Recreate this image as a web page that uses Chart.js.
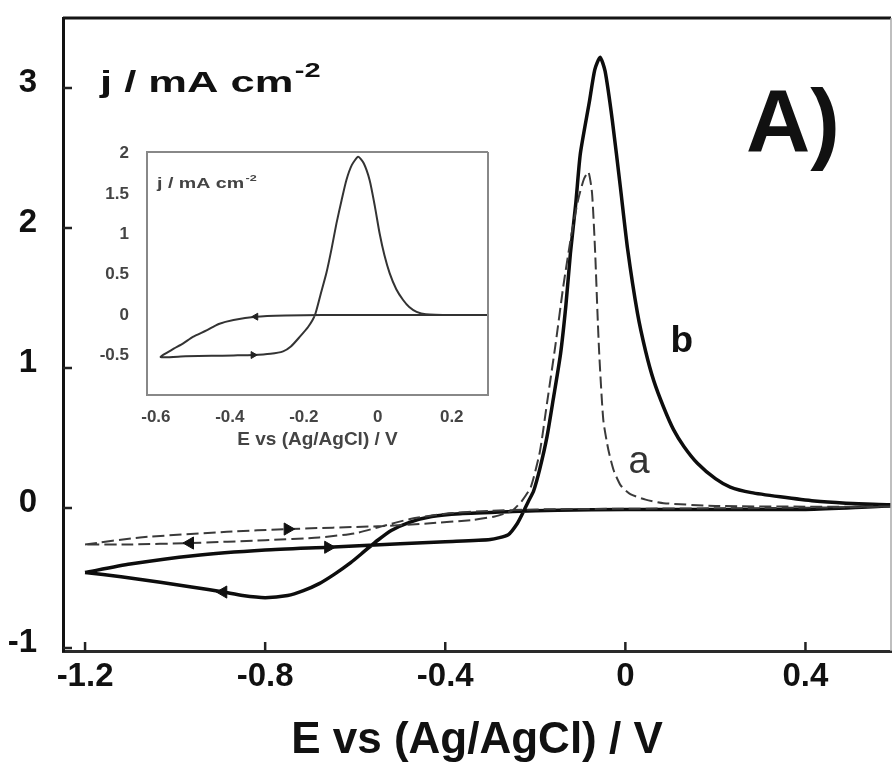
<!DOCTYPE html>
<html>
<head>
<meta charset="utf-8">
<script src="https://cdn.jsdelivr.net/npm/chart.js@4.4.1/dist/chart.umd.min.js"></script>
<style>
  body { margin: 0; background: #fff; }
  #wrap { position: relative; width: 893px; height: 768px; }
  #mainChart { position: absolute; left: 0; top: 0; }
  #insetChart { position: absolute; left: 92px; top: 140px; }
</style>
</head>
<body>
<div id="wrap">
  <canvas id="mainChart" width="893" height="768"></canvas>
  <canvas id="insetChart" width="410" height="320"></canvas>
</div>
<script>
const FUENTE = "'Liberation Sans', Arial, sans-serif";

// Curva a (trazos): barrido de ida y de vuelta
const potA_ida = [-1.20, -1.078, -0.885, -0.75, -0.55, -0.44, -0.34, -0.29, -0.26, -0.248, -0.23, -0.21, -0.19, -0.174,
  -0.155, -0.138, -0.12, -0.105, -0.092, -0.082, -0.074, -0.067, -0.062, -0.058, -0.049, -0.038, -0.026, -0.01, 0.011,
  0.045, 0.085, 0.20, 0.40, 0.60];
const jA_ida = [-0.26, -0.21, -0.17, -0.15, -0.13, -0.11, -0.085, -0.06, -0.03, -0.01, 0.05, 0.15, 0.40, 0.75,
  1.17, 1.58, 1.95, 2.20, 2.35, 2.40, 2.25, 1.82, 1.40, 1.10, 0.63, 0.42, 0.27, 0.16, 0.10,
  0.06, 0.035, 0.015, 0.01, 0.01];
const potA_vuelta = [0.60, 0.30, 0.00, -0.20, -0.30, -0.40, -0.48, -0.54, -0.60, -0.68, -0.80, -0.967, -1.10, -1.20];
const jA_vuelta = [0.005, 0.0, -0.005, -0.01, -0.02, -0.04, -0.08, -0.13, -0.18, -0.21, -0.23, -0.25, -0.26, -0.26];

// Curva b (continua): barrido de ida y de vuelta
const potB_ida = [-1.20, -1.10, -0.96, -0.80, -0.66, -0.50, -0.40, -0.30, -0.26, -0.24, -0.227, -0.215, -0.204, -0.19,
  -0.174, -0.16, -0.144, -0.132, -0.122, -0.11, -0.10, -0.08, -0.068, -0.056, -0.045, -0.029, -0.011, 0.005, 0.027,
  0.045, 0.063, 0.085, 0.107, 0.13, 0.16, 0.20, 0.233, 0.28, 0.344, 0.42, 0.49, 0.60];
const jB_ida = [-0.46, -0.40, -0.34, -0.30, -0.28, -0.255, -0.24, -0.225, -0.19, -0.11, -0.03, 0.05, 0.12, 0.28,
  0.51, 0.78, 1.10, 1.45, 1.82, 2.18, 2.53, 2.90, 3.13, 3.22, 3.12, 2.77, 2.29, 1.85, 1.39,
  1.12, 0.91, 0.72, 0.56, 0.44, 0.32, 0.21, 0.15, 0.11, 0.08, 0.05, 0.035, 0.02];
const potB_vuelta = [0.60, 0.40, 0.20, 0.00, -0.15, -0.25, -0.367, -0.43, -0.478, -0.52, -0.55, -0.58, -0.61, -0.645,
  -0.68, -0.715, -0.75, -0.80, -0.85, -0.893, -0.96, -1.033, -1.12, -1.20];
const jB_vuelta = [-0.005, -0.01, -0.01, -0.01, -0.015, -0.025, -0.04, -0.06, -0.10, -0.16, -0.23, -0.31, -0.39, -0.47,
  -0.54, -0.59, -0.625, -0.64, -0.625, -0.60, -0.565, -0.53, -0.49, -0.46];

// Potenciales donde van las flechas de sentido de barrido
const flechasA = { ida: -0.75, vuelta: -0.967 };
const flechasB = { ida: -0.66, vuelta: -0.893 };

// Recuadro: voltamperograma completo
const potRecuadro = [0.30, 0.15, 0.00, -0.15, -0.25, -0.33, -0.39, -0.43, -0.463, -0.50, -0.526, -0.557, -0.587,
  -0.52, -0.45, -0.39, -0.337, -0.29, -0.256, -0.235, -0.211, -0.188, -0.17, -0.155, -0.139, -0.125, -0.112, -0.098,
  -0.085, -0.07, -0.053, -0.038, -0.022, -0.008, 0.005, 0.018, 0.032, 0.05, 0.068, 0.085, 0.105, 0.13, 0.20, 0.30];
const jRecuadro = [0, 0, 0, 0, -0.005, -0.02, -0.06, -0.11, -0.19, -0.27, -0.35, -0.43, -0.52,
  -0.51, -0.505, -0.50, -0.495, -0.48, -0.45, -0.39, -0.27, -0.145, 0.0, 0.25, 0.52, 0.82, 1.13, 1.42,
  1.67, 1.86, 1.96, 1.88, 1.67, 1.35, 1.01, 0.74, 0.52, 0.32, 0.19, 0.10, 0.04, 0.01, 0, 0];
const flechasRecuadro = { ida: -0.33, vuelta: -0.337 };

// Etiquetas de ejes
const tituloX = 'E vs (Ag/AgCl) / V';
const tituloY = 'j / mA cm';

// Convierte dos barridos en una lista de puntos {x, y}, marcando las flechas
function aPuntos(potIda, jIda, eIda, potVuelta, jVuelta, eVuelta, dirIda, dirVuelta) {
  const ida = potIda.map((e, i) => ({ x: e, y: jIda[i], flecha: e === eIda ? dirIda : null }));
  const vuelta = potVuelta.slice(1).map((e, i) => ({ x: e, y: jVuelta[i + 1], flecha: e === eVuelta ? dirVuelta : null }));
  return ida.concat(vuelta);
}

const puntosA = aPuntos(potA_ida, jA_ida, flechasA.ida, potA_vuelta, jA_vuelta, flechasA.vuelta, 'der', 'izq');
const puntosB = aPuntos(potB_ida, jB_ida, flechasB.ida, potB_vuelta, jB_vuelta, flechasB.vuelta, 'der', 'izq');
const puntosRecuadro = potRecuadro.map((e, i) => ({
  x: e, y: jRecuadro[i],
  flecha: (i < 12 && e === flechasRecuadro.ida) ? 'izq' : (i > 12 && e === flechasRecuadro.vuelta ? 'der' : null)
}));

// Opciones de puntos: solo se dibujan las flechas
function radioFlecha(r) {
  return ctx => (ctx.raw && ctx.raw.flecha) ? r : 0;
}
function giroFlecha(ctx) {
  return (ctx.raw && ctx.raw.flecha === 'der') ? 90 : -90;
}

// Sin márgenes extra por las etiquetas: el área queda donde dice layout.padding
function sinRelleno(s) {
  s.paddingTop = 0;
  s.paddingBottom = 0;
  s.paddingLeft = 0;
  s.paddingRight = 0;
}

// Marcas de graduación hacia dentro y marco del gráfico
const marcasInternas = {
  id: 'marcasInternas',
  afterDatasetsDraw(chart, args, opts) {
    const { ctx, chartArea: ca, scales: { x, y } } = chart;
    ctx.save();
    if (opts.largo > 0) {
      ctx.strokeStyle = opts.color;
      ctx.lineWidth = opts.ancho;
      ctx.beginPath();
      x.ticks.forEach((t, i) => {
        const px = x.getPixelForTick(i);
        ctx.moveTo(px, ca.bottom);
        ctx.lineTo(px, ca.bottom - opts.largo);
      });
      y.ticks.forEach((t, i) => {
        const py = y.getPixelForTick(i);
        ctx.moveTo(ca.left, py);
        ctx.lineTo(ca.left + opts.largo, py);
      });
      ctx.stroke();
    }
    // borde superior
    ctx.strokeStyle = opts.colorSup;
    ctx.lineWidth = opts.anchoSup;
    ctx.beginPath();
    ctx.moveTo(ca.left, ca.top);
    ctx.lineTo(ca.right, ca.top);
    ctx.stroke();
    // borde derecho
    ctx.strokeStyle = opts.colorDer;
    ctx.lineWidth = opts.anchoDer;
    ctx.beginPath();
    ctx.moveTo(ca.right, ca.top);
    ctx.lineTo(ca.right, ca.bottom);
    ctx.stroke();
    ctx.restore();
  }
};

// Texto dentro del área: unidad de j, rótulo del panel y letras de las curvas
const rotulos = {
  id: 'rotulos',
  afterDraw(chart, args, opts) {
    const { ctx, chartArea: ca, scales: { x, y } } = chart;
    ctx.save();
    ctx.fillStyle = opts.color;
    ctx.textBaseline = 'alphabetic';
    ctx.textAlign = 'left';

    // j / mA cm^-2 (ensanchado horizontalmente)
    ctx.save();
    ctx.translate(ca.left + opts.unidad.dx, ca.top + opts.unidad.dy);
    ctx.scale(opts.unidad.estirar, 1);
    ctx.font = 'bold ' + opts.unidad.tam + 'px ' + FUENTE;
    ctx.fillText(tituloY, 0, 0);
    const w = ctx.measureText(tituloY).width;
    ctx.font = 'bold ' + opts.unidad.tamSup + 'px ' + FUENTE;
    ctx.fillText('-2', w + 1, -opts.unidad.subir);
    ctx.restore();

    if (opts.panel) {
      ctx.font = 'bold 89px ' + FUENTE;
      ctx.fillText('A)', ca.right - 145, ca.top + 134);
    }

    (opts.letras || []).forEach(l => {
      ctx.font = l.fuente;
      ctx.fillStyle = l.color;
      ctx.fillText(l.texto, x.getPixelForValue(l.e), y.getPixelForValue(l.j));
    });
    ctx.restore();
  }
};

const mainChart = new Chart(document.getElementById('mainChart').getContext('2d'), {
  type: 'scatter',
  data: {
    datasets: [
      {
        label: 'a',
        data: puntosA,
        showLine: true,
        borderColor: '#3a3a3a',
        borderWidth: 2,
        borderDash: [12, 5],
        tension: 0.2,
        pointStyle: 'triangle',
        pointRadius: radioFlecha(7),
        pointRotation: giroFlecha,
        pointBackgroundColor: '#111',
        pointBorderColor: '#111',
        pointBorderWidth: 1
      },
      {
        label: 'b',
        data: puntosB,
        showLine: true,
        borderColor: '#0d0d0d',
        borderWidth: 3.5,
        tension: 0.2,
        pointStyle: 'triangle',
        pointRadius: radioFlecha(7),
        pointRotation: giroFlecha,
        pointBackgroundColor: '#111',
        pointBorderColor: '#111',
        pointBorderWidth: 1
      }
    ]
  },
  options: {
    responsive: false,
    animation: false,
    events: [],
    layout: { padding: { top: 18, right: 2, left: 0, bottom: 0 } },
    scales: {
      x: {
        type: 'linear',
        min: -1.249,
        max: 0.59,
        afterFit: s => { s.height = 117; sinRelleno(s); },
        grid: { display: false },
        border: { display: true, color: '#2a2a2a', width: 3 },
        ticks: {
          stepSize: 0.4,
          includeBounds: false,
          padding: -2,
          color: '#111',
          font: { family: FUENTE, size: 33, weight: 'bold' },
          callback: v => String(Number(v.toFixed(1)))
        },
        title: {
          display: true,
          text: tituloX,
          color: '#111',
          font: { family: FUENTE, size: 44, weight: 'bold' },
          padding: { top: 0, bottom: 1 }
        }
      },
      y: {
        type: 'linear',
        min: -1.021,
        max: 3.5,
        afterFit: s => { s.width = 63; sinRelleno(s); },
        grid: { display: false },
        border: { display: true, color: '#111', width: 3 },
        ticks: {
          stepSize: 1,
          includeBounds: false,
          padding: 18,
          labelOffset: -5,
          color: '#111',
          font: { family: FUENTE, size: 33, weight: 'bold' },
          callback: v => String(Math.round(v))
        }
      }
    },
    plugins: {
      legend: { display: false },
      tooltip: { enabled: false },
      marcasInternas: { largo: 9, ancho: 2.5, color: '#222', colorSup: '#151515', anchoSup: 3, colorDer: '#aaa', anchoDer: 1.5 },
      rotulos: {
        color: '#111',
        unidad: { dx: 37, dy: 74, tam: 30, estirar: 1.45, tamSup: 20, subir: 15 },
        panel: true,
        letras: [
          { texto: 'b', e: 0.1, j: 1.114, fuente: 'bold 37px ' + FUENTE, color: '#111' },
          { texto: 'a', e: 0.007, j: 0.25, fuente: '38px ' + FUENTE, color: '#333' }
        ]
      }
    }
  },
  plugins: [marcasInternas, rotulos]
});

// Recuadro con el voltamperograma completo
const insetChart = new Chart(document.getElementById('insetChart').getContext('2d'), {
  type: 'scatter',
  data: {
    datasets: [{
      label: 'recuadro',
      data: puntosRecuadro,
      showLine: true,
      borderColor: '#333',
      borderWidth: 2,
      tension: 0.2,
      pointStyle: 'triangle',
      pointRadius: radioFlecha(4),
      pointRotation: giroFlecha,
      pointBackgroundColor: '#222',
      pointBorderColor: '#222',
      pointBorderWidth: 1
    }]
  },
  options: {
    responsive: false,
    animation: false,
    events: [],
    layout: { padding: { top: 12, right: 14, left: 0, bottom: 0 } },
    scales: {
      x: {
        type: 'linear',
        min: -0.624,
        max: 0.298,
        afterFit: s => { s.height = 65; sinRelleno(s); },
        grid: { display: false },
        border: { display: true, color: '#888', width: 2 },
        ticks: {
          stepSize: 0.2,
          includeBounds: false,
          padding: 4,
          color: '#444',
          font: { family: FUENTE, size: 17, weight: 'bold' },
          callback: v => String(Number(v.toFixed(1)))
        },
        title: {
          display: true,
          text: tituloX,
          color: '#444',
          font: { family: FUENTE, size: 19, weight: 'bold' },
          padding: { top: 0, bottom: 9 }
        }
      },
      y: {
        type: 'linear',
        min: -0.99,
        max: 2.02,
        afterFit: s => { s.width = 55; sinRelleno(s); },
        grid: { display: false },
        border: { display: true, color: '#888', width: 2 },
        ticks: {
          stepSize: 0.5,
          includeBounds: false,
          padding: 10,
          color: '#444',
          font: { family: FUENTE, size: 17, weight: 'bold' },
          callback: v => String(Number(v.toFixed(1)))
        }
      }
    },
    plugins: {
      legend: { display: false },
      tooltip: { enabled: false },
      marcasInternas: { largo: 0, ancho: 1, color: '#888', colorSup: '#888', anchoSup: 2, colorDer: '#888', anchoDer: 2 },
      rotulos: {
        color: '#444',
        unidad: { dx: 10, dy: 36, tam: 14, estirar: 1.4, tamSup: 9, subir: 7 },
        panel: false,
        letras: []
      }
    }
  },
  plugins: [marcasInternas, rotulos]
});
</script>
</body>
</html>
